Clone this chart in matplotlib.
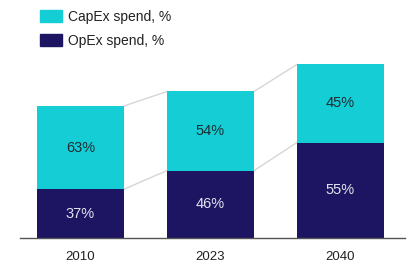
import matplotlib.pyplot as plt
from matplotlib.patches import Patch

plt.rcParams["font.family"] = ["Liberation Sans", "DejaVu Sans"]

YEARS = ["2010", "2023", "2040"]
TOTALS = [100, 111, 131.5]      # relative total spend (2010 = 100)
OPEX_PCT = [37, 46, 55]
CAPEX_PCT = [63, 54, 45]

CAPEX_COLOR = "#14CDD5"
OPEX_COLOR = "#1D1562"
LINK_COLOR = "#D6D6D6"

fig = plt.figure(figsize=(4.09, 2.64), dpi=100)
ax = fig.add_axes([20 / 409, 26 / 264, 385 / 409, 238 / 264])

x = list(range(len(YEARS)))
width = 0.67
opex = [t * p / 100 for t, p in zip(TOTALS, OPEX_PCT)]
capex = [t * p / 100 for t, p in zip(TOTALS, CAPEX_PCT)]

ax.bar(x, opex, width, color=OPEX_COLOR, zorder=2)
ax.bar(x, capex, width, bottom=opex, color=CAPEX_COLOR, zorder=2)

# connector lines between neighbouring bars
for i in range(len(x) - 1):
    x0 = x[i] + width / 2
    x1 = x[i + 1] - width / 2
    ax.plot([x0, x1], [TOTALS[i], TOTALS[i + 1]], color=LINK_COLOR, lw=1, zorder=1)
    ax.plot([x0, x1], [opex[i], opex[i + 1]], color=LINK_COLOR, lw=1, zorder=1)

for i in x:
    ax.text(i, opex[i] / 2, f"{OPEX_PCT[i]}%", ha="center", va="center",
            color="#E4E4EE", fontsize=10.5)
    ax.text(i, opex[i] + capex[i] / 2, f"{CAPEX_PCT[i]}%", ha="center", va="center",
            color="#1F2D33", fontsize=10.5)

ax.set_xlim(-0.465, 2.496)
ax.set_ylim(0, 238 / 1.32)
for s in ["top", "right", "left"]:
    ax.spines[s].set_visible(False)
ax.spines["bottom"].set_color("#555555")
ax.spines["bottom"].set_linewidth(1)
ax.set_yticks([])
ax.set_xticks(x)
ax.set_xticklabels(YEARS, fontsize=9.5, color="#222222")
ax.tick_params(axis="x", length=0, pad=9)

handles = [Patch(color=CAPEX_COLOR, label="CapEx spend, %"),
           Patch(color=OPEX_COLOR, label="OpEx spend, %")]
fig.legend(handles=handles, loc="upper left", bbox_to_anchor=(40 / 409, 1 - 10 / 264),
           frameon=False, fontsize=10, handlelength=1.58, handleheight=0.95,
           labelspacing=0.72, handletextpad=0.45, borderaxespad=0, borderpad=0,
           labelcolor="#222222")

fig.savefig("out.png", dpi=100)
